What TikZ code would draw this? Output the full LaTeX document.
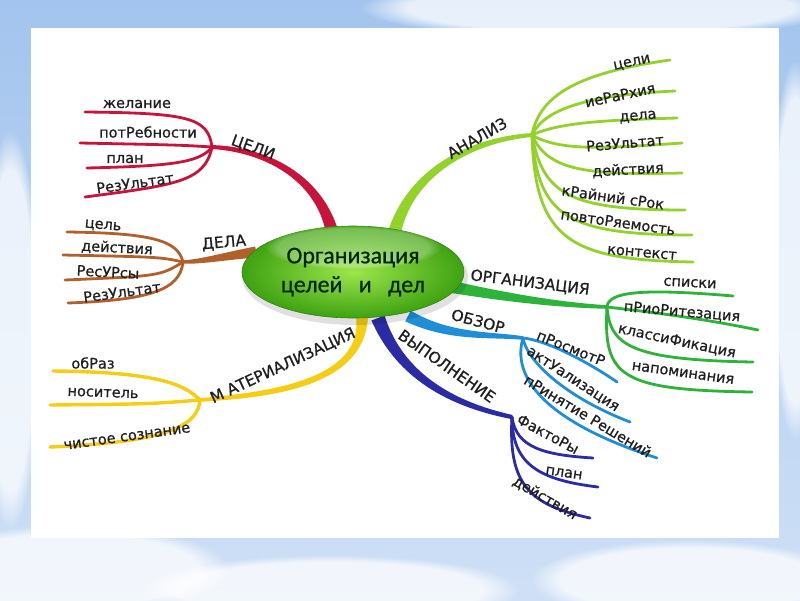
\documentclass[tikz,border=0pt]{standalone}
\usepackage{fontspec}
\setmainfont{DejaVu Sans}
\newfontfamily\lblfont[FakeBold=0.8]{DejaVu Sans}
\newfontfamily\centerfont[FakeBold=0.6]{Carlito}
\usetikzlibrary{calc,shapes.geometric,fadings}

\definecolor{celi}{HTML}{C8133B}
\definecolor{dela}{HTML}{B0602A}
\definecolor{anal}{HTML}{92D22A}
\definecolor{orgc}{HTML}{2DB33A}
\definecolor{obzr}{HTML}{1F8ED6}
\definecolor{vypl}{HTML}{2C2BA6}
\definecolor{matr}{HTML}{F5CD12}
\definecolor{skytop}{HTML}{A3C4EE}
\definecolor{skybot}{HTML}{CFE0F6}
\definecolor{ballin}{HTML}{9CE64A}
\definecolor{ballout}{HTML}{3FA212}

% tapered branch: colour, start (thick), control 1, control 2, end (thin), half width
\newcommand{\taperbranch}[6]{%
  \fill[#1] ($(#2)!#6!90:(#3)$) .. controls ($(#3)!0.7*#6!90:(#4)$) and ($(#4)!0.45*#6!90:(#5)$) .. ($(#5)!0.3*#6!-90:(#4)$)
     -- ($(#5)!0.3*#6!90:(#4)$) .. controls ($(#4)!0.45*#6!-90:(#5)$) and ($(#3)!0.7*#6!-90:(#4)$) .. ($(#2)!#6!-90:(#3)$) -- cycle;}

\begin{document}
\begin{tikzpicture}[x=1pt,y=-1pt,
  lbl/.style={font=\lblfont\fontsize{14.5}{14.5}\selectfont, inner sep=0pt, text=black!88},
  caplbl/.style={font=\lblfont\fontsize{15.5}{15.5}\selectfont, inner sep=0pt, text=black!88},
  sub/.style={line width=2.8pt, line cap=round},
  cloud/.style={white, opacity=0.75, path fading=circle with fuzzy edge 20 percent}]

\useasboundingbox (0,0) rectangle (800,600);
\shade[top color=skytop, bottom color=skybot] (0,0) rectangle (800,600);
\fill[cloud] (70,570) ellipse (160 and 45);
\fill[cloud] (330,590) ellipse (190 and 35);
\fill[cloud] (690,580) ellipse (160 and 40);
\fill[cloud] (600,8) ellipse (240 and 30);
\fill[cloud] (10,330) ellipse (30 and 200);
\fill[cloud] (795,250) ellipse (25 and 190);
\fill[white] (31,28) rectangle (779,538);

% ---------- coordinates ----------
\coordinate (hC) at (212,147);
\coordinate (hD) at (183,262);
\coordinate (hA) at (532,135);
\coordinate (hO) at (607,307);
\coordinate (hB) at (523,338);
\coordinate (hV) at (512,417);
\coordinate (hM) at (200,400);

\coordinate (sC) at (333,236); \coordinate (c1C) at (322,182); \coordinate (c2C) at (272,150);
\coordinate (sD) at (256,252); \coordinate (c1D) at (226,256); \coordinate (c2D) at (200,262);
\coordinate (sA) at (394,234); \coordinate (c1A) at (410,172); \coordinate (c2A) at (470,140);
\coordinate (sO) at (452,287); \coordinate (c1O) at (510,298); \coordinate (c2O) at (560,305);
\coordinate (sB) at (408,316); \coordinate (c1B) at (450,338); \coordinate (c2B) at (490,334);
\coordinate (sV) at (378,318); \coordinate (c1V) at (397,368); \coordinate (c2V) at (440,402);
\coordinate (sM) at (362,316); \coordinate (c1M) at (365,385); \coordinate (c2M) at (265,395);

% ---------- main branches ----------
\taperbranch{celi}{sC}{c1C}{c2C}{hC}{6.5pt}
\taperbranch{dela}{sD}{c1D}{c2D}{hD}{5.5pt}
\taperbranch{anal}{sA}{c1A}{c2A}{hA}{6.5pt}
\taperbranch{orgc}{sO}{c1O}{c2O}{hO}{6pt}
\taperbranch{obzr}{sB}{c1B}{c2B}{hB}{6pt}
\taperbranch{vypl}{sV}{c1V}{c2V}{hV}{7pt}
\taperbranch{matr}{sM}{c1M}{c2M}{hM}{6pt}

% ---------- ЦЕЛИ ----------
\coordinate (eC1) at (85,112); \coordinate (eC2) at (80,143);
\coordinate (eC3) at (87,168); \coordinate (eC4) at (85,197);
\draw[sub,celi] (hC) .. controls (208,118) and (190,113) .. (eC1);
\draw[sub,celi] (hC) .. controls (180,145) .. (eC2);
\draw[sub,celi] (hC) .. controls (200,163) and (170,166) .. (eC3);
\draw[sub,celi] (hC) .. controls (205,182) and (175,185) .. (eC4);

% ---------- ДЕЛА ----------
\coordinate (eD1) at (67,232); \coordinate (eD2) at (63,255);
\coordinate (eD3) at (65,280); \coordinate (eD4) at (68,303);
\draw[sub,dela] (hD) .. controls (178,240) and (150,233) .. (eD1);
\draw[sub,dela] (hD) .. controls (160,257) .. (eD2);
\draw[sub,dela] (hD) .. controls (160,276) .. (eD3);
\draw[sub,dela] (hD) .. controls (180,290) and (150,300) .. (eD4);

% ---------- АНАЛИЗ ----------
\coordinate (eA1) at (670,60);  \coordinate (eA2) at (675,91);
\coordinate (eA3) at (677,118); \coordinate (eA4) at (682,143);
\coordinate (eA5) at (682,173); \coordinate (eA6) at (685,210);
\coordinate (eA7) at (692,235); \coordinate (eA8) at (693,262);
\draw[sub,anal] (hA) .. controls (540,92) and (585,72) .. (eA1);
\draw[sub,anal] (hA) .. controls (545,108) and (590,95) .. (eA2);
\draw[sub,anal] (hA) .. controls (560,122) and (610,120) .. (eA3);
\draw[sub,anal] (hA) .. controls (560,152) and (610,148) .. (eA4);
\draw[sub,anal] (hA) .. controls (548,172) and (590,175) .. (eA5);
\draw[sub,anal] (hA) .. controls (543,195) and (570,210) .. (eA6);
\draw[sub,anal] (hA) .. controls (538,215) and (565,235) .. (eA7);
\draw[sub,anal] (hA) .. controls (535,240) and (570,260) .. (eA8);

% ---------- ОРГАНИЗАЦИЯ ----------
\coordinate (eO1) at (733,296); \coordinate (eO2) at (758,330);
\coordinate (eO3) at (753,362); \coordinate (eO4) at (752,392);
\draw[sub,orgc] (hO) .. controls (608,292) and (640,288) .. (eO1);
\draw[sub,orgc] (hO) .. controls (650,312) and (700,318) .. (eO2);
\draw[sub,orgc] (hO) .. controls (610,345) and (630,360) .. (eO3);
\draw[sub,orgc] (hO) .. controls (603,377) and (620,390) .. (eO4);

% ---------- ОБЗОР ----------
\coordinate (eB1) at (617,382); \coordinate (eB2) at (630,422); \coordinate (eB3) at (657,458);
\draw[sub,obzr] (hB) .. controls (545,340) and (585,360) .. (eB1);
\draw[sub,obzr] (hB) .. controls (526,358) and (560,395) .. (eB2);
\draw[sub,obzr] (hB) .. controls (512,375) and (540,420) .. (eB3);

% ---------- ВЫПОЛНЕНИЕ ----------
\coordinate (eV1) at (593,458); \coordinate (eV2) at (598,487); \coordinate (eV3) at (590,518);
\draw[sub,vypl] (hV) .. controls (516,448) and (545,455) .. (eV1);
\draw[sub,vypl] (hV) .. controls (512,465) and (540,480) .. (eV2);
\draw[sub,vypl] (hV) .. controls (508,485) and (530,505) .. (eV3);

% ---------- МАТЕРИАЛИЗАЦИЯ ----------
\coordinate (eM1) at (53,371); \coordinate (eM2) at (50,405); \coordinate (eM3) at (50,447);
\draw[sub,matr,line width=3.4pt] (hM) .. controls (185,385) and (160,372) .. (eM1);
\draw[sub,matr,line width=3.4pt] (hM) .. controls (150,404) .. (eM2);
\draw[sub,matr,line width=3.4pt] (hM) .. controls (198,425) and (170,442) .. (eM3);

% ---------- central node ----------
\fill[black,opacity=0.12] (355,277) ellipse (113 and 48);
\node[ellipse, minimum width=222pt, minimum height=92pt, inner color=ballin, outer color=ballout, draw=ballout!80!black, line width=0.6pt] (center) at (353,272) {};
\fill[white,opacity=0.28, path fading=circle with fuzzy edge 15 percent] (353,247) ellipse (88 and 22);
\node[font=\centerfont\fontsize{24}{29}\selectfont, align=center, text=black!85!green, inner sep=0pt] (ctext) at (center) {Организация\\целей\ \ \ и\ \ \ дел};

% ---------- labels ----------
\node[caplbl, rotate=-20] (tC)  at (253,148) {ЦЕЛИ};
\node[lbl] (tC1) at (137,104) {желание};
\node[lbl] (tC2) at (148,132) {потРебности};
\node[lbl] (tC3) at (125,159) {план};
\node[lbl, rotate=8] (tC4) at (135,183) {РезУльтат};

\node[caplbl, rotate=5] (tD) at (224,243) {ДЕЛА};
\node[lbl, rotate=-5] (tD1) at (103,226) {цель};
\node[lbl, rotate=-3] (tD2) at (117,248) {действия};
\node[lbl, rotate=-3] (tD3) at (108,272) {РесУРсы};
\node[lbl, rotate=8] (tD4) at (122,292) {РезУльтат};

\node[caplbl, rotate=30] (tA) at (477,138) {АНАЛИЗ};
\node[lbl, rotate=12] (tA1) at (632,63) {цели};
\node[lbl, rotate=12] (tA2) at (620,95) {иеРаРхия};
\node[lbl, rotate=5] (tA3) at (638,117) {дела};
\node[lbl, rotate=5] (tA4) at (625,143) {РезУльтат};
\node[lbl, rotate=3] (tA5) at (628,170) {действия};
\node[lbl, rotate=-8] (tA6) at (613,197) {кРайний сРок};
\node[lbl, rotate=-8] (tA7) at (618,222) {повтоРяемость};
\node[lbl, rotate=-5] (tA8) at (642,253) {контекст};

\node[caplbl, rotate=-7] (tO) at (530,283) {ОРГАНИЗАЦИЯ};
\node[lbl, rotate=-3] (tO1) at (690,283) {списки};
\node[lbl, rotate=-5] (tO2) at (682,312) {пРиоРитезация};
\node[lbl, rotate=-12] (tO3) at (677,341) {классиФикация};
\node[lbl, rotate=-8] (tO4) at (683,373) {напоминания};

\node[caplbl, rotate=-15] (tB) at (478,321) {ОБЗОР};
\node[lbl, rotate=-22] (tB1) at (571,348) {пРосмотР};
\node[lbl, rotate=-33] (tB2) at (573,379) {актУализация};
\node[lbl, rotate=-31] (tB3) at (588,416) {пРинятие Решений};

\node[caplbl, rotate=-35] (tV) at (447,366) {ВЫПОЛНЕНИЕ};
\node[lbl, rotate=-28] (tV1) at (548,434) {ФактоРы};
\node[lbl, rotate=-8] (tV2) at (564,473) {план};
\node[lbl, rotate=-30] (tV3) at (545,498) {действия};

\node[caplbl, rotate=25] (tM) at (283,366) {М АТЕРИАЛИЗАЦИЯ};
\node[lbl] (tM1) at (93,363) {обРаз};
\node[lbl, rotate=-2] (tM2) at (103,393) {носитель};
\node[lbl, rotate=8] (tM3) at (127,437) {чистое сознание};
\end{tikzpicture}
\end{document}
